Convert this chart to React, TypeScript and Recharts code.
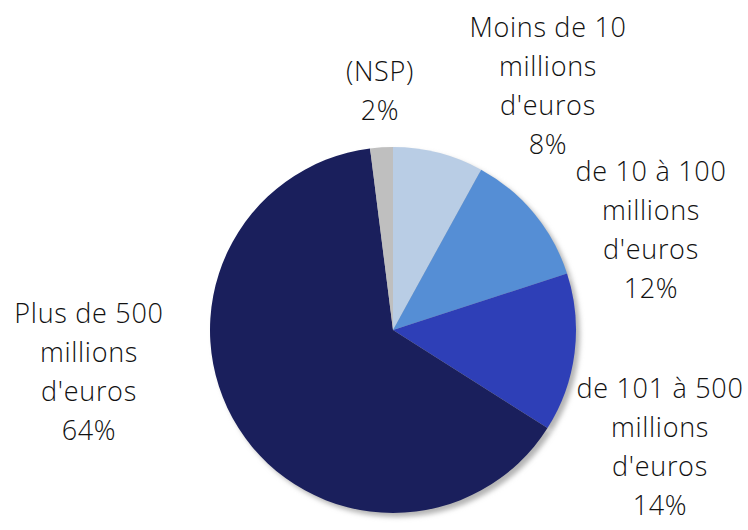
import { PieChart, Pie, Cell } from 'recharts';

const categories = [
  "Moins de 10\nmillions\nd'euros",
  "de 10 à 100\nmillions\nd'euros",
  "de 101 à 500\nmillions\nd'euros",
  "Plus de 500\nmillions\nd'euros",
  '(NSP)'
];
const shares = [8, 12, 14, 64, 2];
const colors = ['#b9cde5', '#558ed5', '#2e3fb7', '#1a1f5c', '#bfbfbf'];

// where each label block sits, relative to the pie centre (Excel moved them by hand)
const labelOffsets = [
  [155, -245],
  [258, -101],
  [267, 116],
  [-304, 41],
  [-13, -240]
];

const data = categories.map((name, i) => ({ name, value: shares[i] }));

const CX = 393;
const CY = 330;
const R = 183;
const LINE = 39;

const renderLabel = (props: any) => {
  const { index, cx, cy } = props;
  const lines = [...categories[index].split('\n'), `${shares[index]}%`];
  const [dx, dy] = labelOffsets[index];
  const x = cx + dx;
  const top = cy + dy - ((lines.length - 1) * LINE) / 2;
  return (
    <g key={`lbl-${index}`}>
      {lines.map((t, j) => (
        <text
          key={j}
          x={x}
          y={top + j * LINE}
          textAnchor="middle"
          dominantBaseline="central"
          fontFamily="'Open Sans', sans-serif"
          fontWeight={300}
          fontSize={27}
          letterSpacing={0.7}
          fill="#111"
        >
          {t}
        </text>
      ))}
    </g>
  );
};

const App = () => {
  return (
    <div style={{ position: 'absolute', left: 0, top: 0, width: 748, height: 530, background: '#fff' }}>
      <PieChart width={748} height={530} margin={{ top: 0, right: 0, bottom: 0, left: 0 }}>
        <defs>
          <filter id="pieShadow" x="-20%" y="-20%" width="140%" height="140%">
            <feGaussianBlur stdDeviation="2.5" />
          </filter>
        </defs>
        <Pie
          data={data}
          dataKey="value"
          cx={CX + 4}
          cy={CY + 4}
          outerRadius={R}
          startAngle={90}
          endAngle={-270}
          stroke="none"
          fill="#b0b0b0"
          isAnimationActive={false}
          labelLine={false}
          label={false}
        >
          {data.map((_, i) => (
            <Cell key={i} fill="#b4b4b4" style={{ filter: 'url(#pieShadow)' }} />
          ))}
        </Pie>
        <Pie
          data={data}
          dataKey="value"
          cx={CX}
          cy={CY}
          outerRadius={R}
          startAngle={90}
          endAngle={-270}
          stroke="none"
          isAnimationActive={false}
          labelLine={false}
          label={renderLabel}
        >
          {data.map((_, i) => (
            <Cell key={i} fill={colors[i]} />
          ))}
        </Pie>
      </PieChart>
    </div>
  );
};

export default App;
